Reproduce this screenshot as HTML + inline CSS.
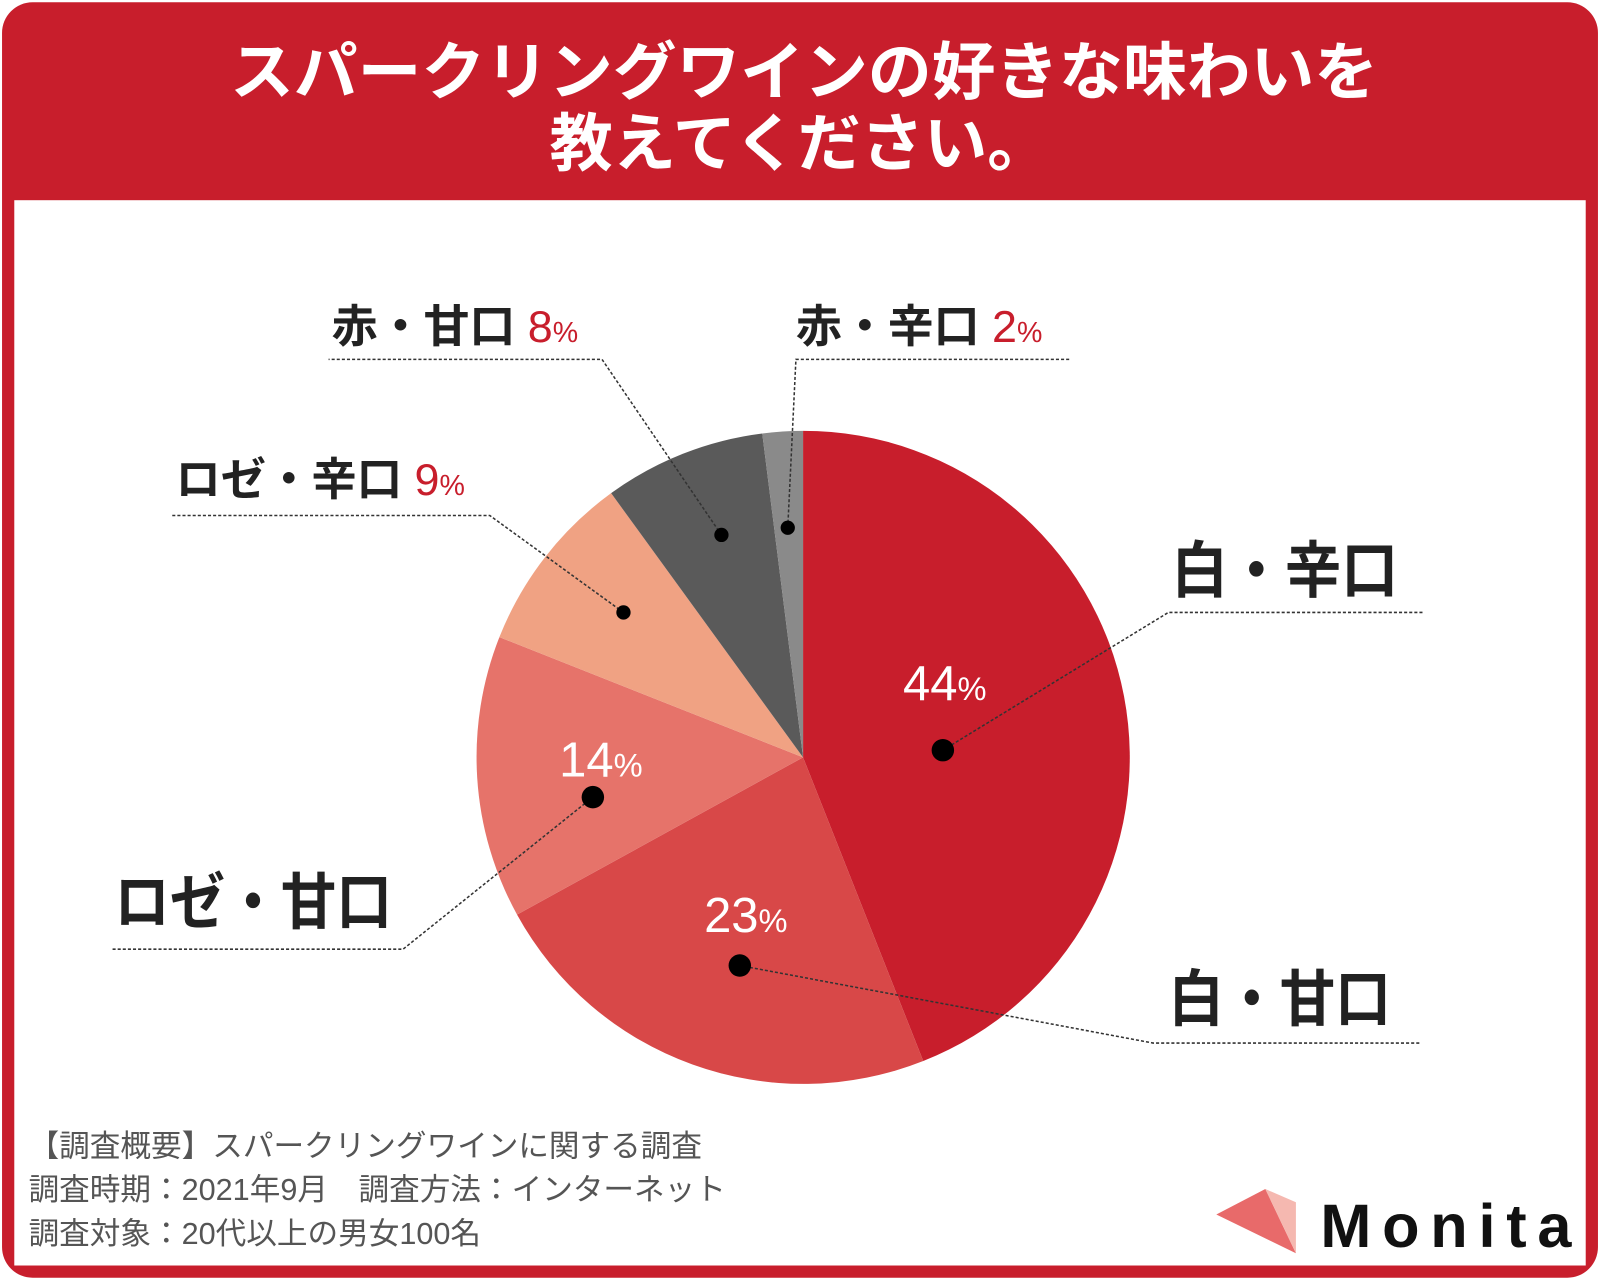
<!DOCTYPE html>
<html><head><meta charset="utf-8"><style>
html,body{margin:0;padding:0;background:#fff;}
svg{display:block;}
text{font-family:"Liberation Sans","Noto Sans CJK JP",sans-serif;}
</style></head><body>
<svg width="1600" height="1280" viewBox="0 0 1568 1254" xmlns="http://www.w3.org/2000/svg">
<rect x="0" y="0" width="1568" height="1254" fill="#fff"/>
<rect x="2" y="2" width="1564" height="1250" rx="30" fill="#c81e2c"/>
<rect x="14" y="196" width="1540" height="1044" fill="#fff"/>
<text x="788" y="92" font-size="62" font-weight="bold" fill="#fff" text-anchor="middle" textLength="1125" lengthAdjust="spacingAndGlyphs">スパークリングワインの好きな味わいを</text>
<text x="784" y="162" font-size="62" font-weight="bold" fill="#fff" text-anchor="middle">教えてください。</text>
<g stroke="none">
<path d="M787,742 L787,422 A320,320 0 0,1 904.8,1039.6 Z" fill="#c81e2c"/>
<path d="M787,742 L904.8,1039.6 A320,320 0 0,1 506.7,896.1 Z" fill="#d84848"/>
<path d="M787,742 L506.7,896.1 A320,320 0 0,1 489.4,624.2 Z" fill="#e6736a"/>
<path d="M787,742 L489.4,624.2 A320,320 0 0,1 598.9,483.1 Z" fill="#f0a283"/>
<path d="M787,742 L598.9,483.1 A320,320 0 0,1 747,424.6 Z" fill="#5a5a5a"/>
<path d="M787,742 L747,424.6 A320,320 0 0,1 787,422 Z" fill="#8a8a8a"/>
</g>
<g stroke="#333" stroke-width="1.5" stroke-dasharray="3,2" fill="none">
<path d="M924,735 L1145,600 L1395,600"/>
<path d="M725,946 L1130,1022 L1392,1022"/>
<path d="M581,781 L395,930 L110,930"/>
<path d="M611,600 L480,505 L168,505"/>
<path d="M707,524 L590,352 L322,352"/>
<path d="M772,517 L780,352 L1048,352"/>
</g>
<g fill="#000">
<circle cx="924" cy="735" r="11"/><circle cx="725" cy="946" r="11"/><circle cx="581" cy="781" r="11"/>
<circle cx="611" cy="600" r="7"/><circle cx="707" cy="524" r="7"/><circle cx="772" cy="517" r="7"/>
</g>
<g fill="#fff" font-size="48"><text x="885" y="686">44<tspan font-size="32">%</tspan></text>
<text x="690" y="913">23<tspan font-size="32">%</tspan></text>
<text x="548" y="761">14<tspan font-size="32">%</tspan></text></g>
<g font-weight="bold" fill="#222">
<text x="1148" y="580" font-size="60" textLength="222" lengthAdjust="spacingAndGlyphs">白・辛口</text>
<text x="1145" y="1000" font-size="60" textLength="218" lengthAdjust="spacingAndGlyphs">白・甘口</text>
<text x="112" y="905" font-size="60" textLength="272" lengthAdjust="spacingAndGlyphs">ロゼ・甘口</text>
<text x="172" y="485" font-size="44"><tspan textLength="222" lengthAdjust="spacingAndGlyphs">ロゼ・辛口</tspan> <tspan fill="#c81e2c" font-weight="normal">9<tspan font-size="28">%</tspan></tspan></text>
<text x="325" y="335" font-size="44"><tspan textLength="180" lengthAdjust="spacingAndGlyphs">赤・甘口</tspan> <tspan fill="#c81e2c" font-weight="normal">8<tspan font-size="28">%</tspan></tspan></text>
<text x="780" y="335" font-size="44"><tspan textLength="180" lengthAdjust="spacingAndGlyphs">赤・辛口</tspan> <tspan fill="#c81e2c" font-weight="normal">2<tspan font-size="28">%</tspan></tspan></text>
</g>
<g fill="#555" font-size="30">
<text x="28" y="1133">【調査概要】スパークリングワインに関する調査</text>
<text x="28" y="1176">調査時期：2021年9月　調査方法：インターネット</text>
<text x="28" y="1219">調査対象：20代以上の男女100名</text>
</g>
<polygon points="1192,1190 1240,1165 1270,1228" fill="#e86a6a"/>
<polygon points="1240,1165 1270,1178 1270,1228" fill="#f5b8b0"/>
<text x="1294" y="1222" font-size="60" font-weight="bold" fill="#111" textLength="246" lengthAdjust="spacing">Monita</text>
</svg>
</body></html>
